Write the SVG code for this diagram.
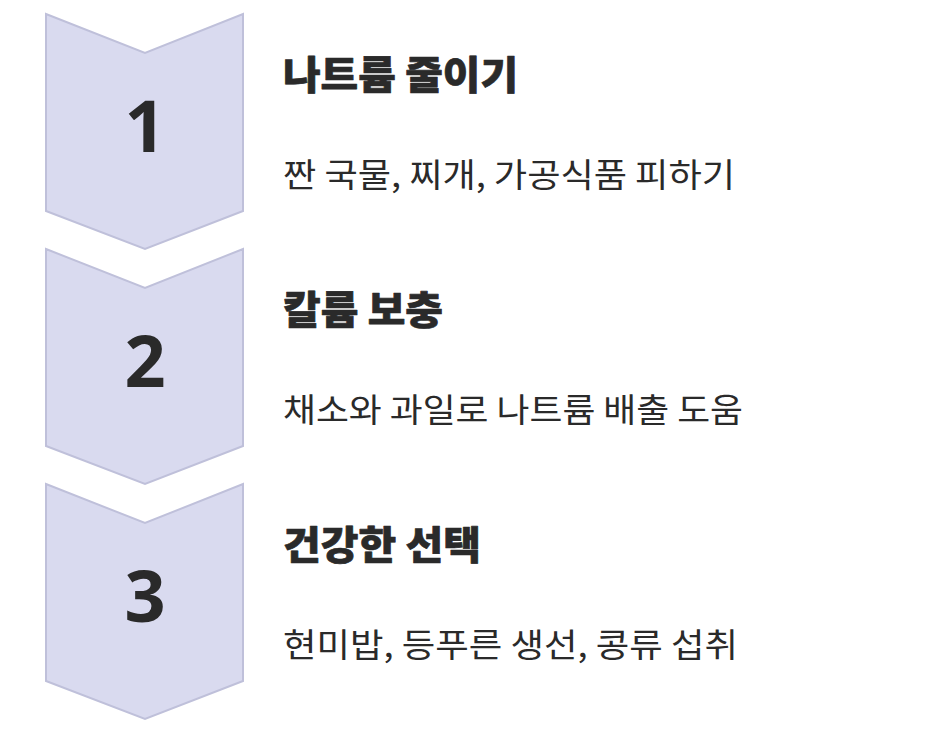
<svg xmlns="http://www.w3.org/2000/svg" width="952" height="740" viewBox="0 0 952 740">
<style>
.chev{fill:#d9daef;stroke:#bfc0da;stroke-width:2;stroke-linejoin:miter}
.num{font-family:"Noto Sans","Liberation Sans",sans-serif;font-weight:700;font-size:72px;fill:#2a2a2a;text-anchor:middle}
.title{font-family:"Noto Sans CJK KR",sans-serif;font-weight:900;font-size:39px;fill:#2a2a2a;stroke:#2a2a2a;stroke-width:0.7;stroke-linejoin:round}
.sub{font-family:"Noto Sans CJK KR",sans-serif;font-weight:400;font-size:33px;fill:#2a2a2a}
</style>
<rect width="952" height="740" fill="#ffffff"/>
<g id="step1">
<polygon class="chev" points="46,14 145,53 243,14 243,211 145,249 46,211"/>
<text class="num" x="145" y="152">1</text>
<text class="title" x="283" y="89" textLength="235" lengthAdjust="spacingAndGlyphs">나트륨 줄이기</text>
<text class="sub" x="283" y="187" textLength="452" lengthAdjust="spacingAndGlyphs">짠 국물, 찌개, 가공식품 피하기</text>
</g>
<g id="step2">
<polygon class="chev" points="46,249 145,288 243,249 243,446 145,484 46,446"/>
<text class="num" x="145" y="387">2</text>
<text class="title" x="283" y="324" textLength="160" lengthAdjust="spacingAndGlyphs">칼륨 보충</text>
<text class="sub" x="283" y="422" textLength="460" lengthAdjust="spacingAndGlyphs">채소와 과일로 나트륨 배출 도움</text>
</g>
<g id="step3">
<polygon class="chev" points="46,484 145,523 243,484 243,681 145,719 46,681"/>
<text class="num" x="145" y="622">3</text>
<text class="title" x="283" y="559" textLength="198" lengthAdjust="spacingAndGlyphs">건강한 선택</text>
<text class="sub" x="283" y="657" textLength="455" lengthAdjust="spacingAndGlyphs">현미밥, 등푸른 생선, 콩류 섭취</text>
</g>
<g id="connectors"></g>
</svg>
